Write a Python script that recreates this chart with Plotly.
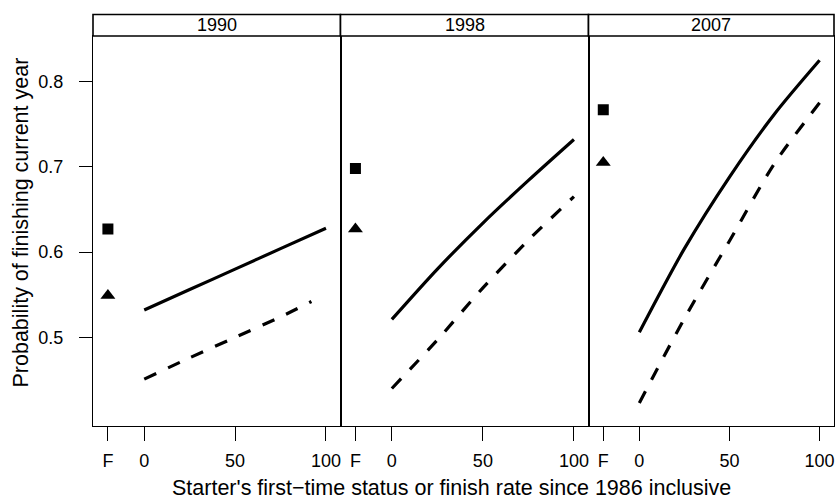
import plotly.graph_objects as go

# ---- data ----
years = ["1990", "1998", "2007"]
rate_x = [0, 25, 50, 75, 100]
solid_1990 = [0.532, 0.556, 0.580, 0.604, 0.628]
solid_1998 = [0.521, 0.580, 0.634, 0.684, 0.732]
solid_2007 = [0.506, 0.604, 0.688, 0.762, 0.825]
dash_x_1990 = [0, 25, 50, 75, 92]
dash_1990 = [0.451, 0.476, 0.500, 0.524, 0.542]
dash_1998 = [0.440, 0.497, 0.558, 0.614, 0.665]
dash_2007 = [0.423, 0.522, 0.613, 0.704, 0.775]
first_time_pos = -20
square_vals = [0.627, 0.698, 0.767]
triangle_vals = [0.549, 0.627, 0.705]
x_tickvals = [-20, 0, 50, 100]
x_ticktext = ["F", "0", "50", "100"]
y_tickvals = [0.5, 0.6, 0.7, 0.8]
y_ticktext = ["0.5", "0.6", "0.7", "0.8"]

solids = [solid_1990, solid_1998, solid_2007]
dash_xs = [dash_x_1990, rate_x, rate_x]
dashes = [dash_1990, dash_1998, dash_2007]

FONT = "Liberation Sans, Arial, Helvetica, sans-serif"
W, H = 836, 500
ML, MR, MT, MB = 93, 2, 14, 74
plot_w = W - ML - MR
plot_h = H - MT - MB
ydom_top = (426 - 36) / plot_h

edges_px = [92.7, 340.5, 588.5, 834.3]
edges = [(e - ML) / plot_w for e in edges_px]
edges[0] = 0.0
edges[-1] = 1.0

fig = go.Figure()
for i in range(3):
    xa = "x" if i == 0 else f"x{i+1}"
    ya = "y" if i == 0 else f"y{i+1}"
    fig.add_trace(go.Scatter(x=rate_x, y=solids[i], mode="lines",
                             line=dict(color="black", width=3.2, shape="spline", smoothing=0.8),
                             xaxis=xa, yaxis=ya, showlegend=False))
    fig.add_trace(go.Scatter(x=dash_xs[i], y=dashes[i], mode="lines",
                             line=dict(color="black", width=3.2, dash="13px,13px",
                                       shape="spline", smoothing=0.8),
                             xaxis=xa, yaxis=ya, showlegend=False))
    fig.add_trace(go.Scatter(x=[first_time_pos], y=[square_vals[i]], mode="markers",
                             marker=dict(symbol="square", size=11, color="black"),
                             xaxis=xa, yaxis=ya, showlegend=False))
    fig.add_trace(go.Scatter(x=[first_time_pos], y=[triangle_vals[i]], mode="markers",
                             marker=dict(symbol="triangle-up", size=13, color="black"),
                             xaxis=xa, yaxis=ya, showlegend=False))

xrange = [-28.2, 108.0]
yrange = [0.396, 0.8534]
layout = dict(
    width=W, height=H,
    margin=dict(l=ML, r=MR, t=MT, b=MB, pad=0),
    paper_bgcolor="white", plot_bgcolor="white",
    font=dict(family=FONT, size=18, color="black"),
    showlegend=False,
)
for i in range(3):
    xk = "xaxis" if i == 0 else f"xaxis{i+1}"
    yk = "yaxis" if i == 0 else f"yaxis{i+1}"
    ya = "y" if i == 0 else f"y{i+1}"
    xa = "x" if i == 0 else f"x{i+1}"
    layout[xk] = dict(domain=[edges[i], edges[i+1]], range=xrange, anchor=ya,
                      tickvals=x_tickvals, ticktext=x_ticktext,
                      ticks="outside", ticklen=14, tickwidth=1.3, tickcolor="black",
                      showline=True, mirror=True, linecolor="black", linewidth=1.4,
                      showgrid=False, zeroline=False, ticklabelstandoff=4,
                      tickfont=dict(size=18, family=FONT, color="black"))
    ydict = dict(domain=[0, ydom_top], range=yrange, anchor=xa,
                 showline=True, mirror=True, linecolor="black", linewidth=1.4,
                 showgrid=False, zeroline=False)
    if i == 0:
        ydict.update(tickvals=y_tickvals, ticktext=y_ticktext, ticks="outside",
                     ticklen=13, tickwidth=1.3, tickcolor="black",
                     ticklabelstandoff=12,
                     tickfont=dict(size=18, family=FONT, color="black"))
    else:
        ydict.update(matches="y", showticklabels=False, ticks="")
    layout[yk] = ydict

shapes = []
annotations = []
for i in range(3):
    shapes.append(dict(type="rect", xref="paper", yref="paper",
                       x0=edges[i], x1=edges[i+1], y0=ydom_top, y1=(plot_h - 0.5) / plot_h,
                       line=dict(color="black", width=1.6), fillcolor="white", layer="above"))
    annotations.append(dict(text=years[i], xref="paper", yref="paper",
                            x=(edges[i] + edges[i+1]) / 2, y=(ydom_top + 1) / 2,
                            xanchor="center", yanchor="middle", showarrow=False,
                            font=dict(size=18, family=FONT, color="black")))
annotations.append(dict(text="Probability of finishing current year",
                        xref="paper", yref="paper",
                        x=(21 - ML) / plot_w, y=(426 - 222.5) / plot_h,
                        xanchor="center", yanchor="middle", textangle=-90,
                        showarrow=False, font=dict(size=21.5, family=FONT, color="black")))
annotations.append(dict(text="Starter's first\u2212time status or finish rate since 1986 inclusive",
                        xref="paper", yref="paper",
                        x=(451.4 - ML) / plot_w, y=(426 - 488) / plot_h,
                        xanchor="center", yanchor="middle",
                        showarrow=False, font=dict(size=21.5, family=FONT, color="black")))
layout["shapes"] = shapes
layout["annotations"] = annotations
fig.update_layout(**layout)
fig.write_html("out.html",
               config={"displayModeBar": False},
               post_script="document.documentElement.style.margin='0';"
                           "document.documentElement.style.overflow='hidden';"
                           "document.body.style.margin='0';"
                           "document.body.style.padding='0';"
                           "document.body.style.overflow='hidden';")
